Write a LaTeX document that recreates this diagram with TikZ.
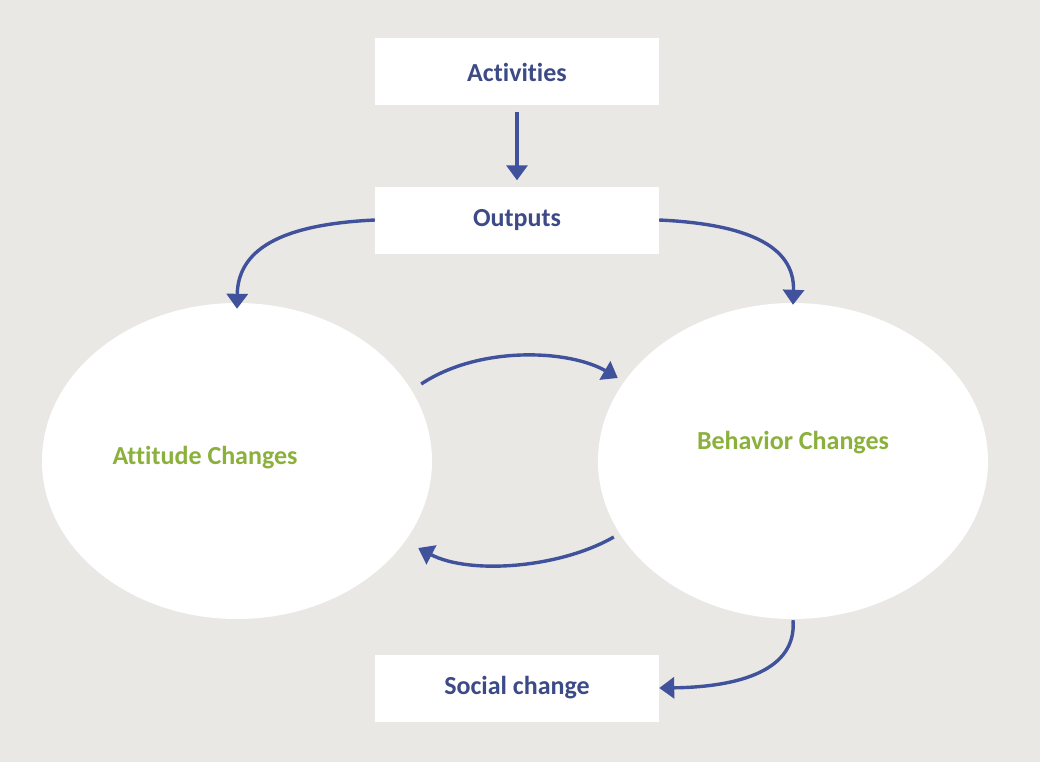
\documentclass[tikz,border=0pt]{standalone}
\usepackage{fontspec}
\setmainfont[Ligatures=NoCommon]{Carlito}
\usetikzlibrary{arrows.meta, positioning, shapes.geometric}
\definecolor{bggray}{RGB}{234,232,229}
\definecolor{txtblue}{RGB}{60,74,134}
\definecolor{arrblue}{RGB}{64,82,155}
\definecolor{chggreen}{RGB}{139,177,60}

\begin{document}
\begin{tikzpicture}[
  x=1pt, y=-1pt,
  box/.style={rectangle, fill=white, minimum width=284pt, minimum height=67pt,
              font=\fontsize{26}{30}\selectfont\bfseries, text=txtblue, align=center},
  blob/.style={ellipse, fill=white, minimum width=390pt, minimum height=316pt,
               inner sep=0pt},
  lbl/.style={text=chggreen, font=\fontsize{26}{30}\selectfont\bfseries},
  arr/.style={-{Triangle[length=15pt, width=21pt]}, line width=3.4pt, arrblue},
]
\fill[bggray] (0,0) rectangle (1040,762);
\useasboundingbox (0,0) rectangle (1040,762);

% Boxes
\node[box] (act)  at (517,72)  {Activities};
\node[box] (outp) at (517,220) {Outputs};
\node[box] (soc)  at (517,688) {Social change};

% Changes
\node[blob] (att) at (237,461) {};
\node[blob] (beh) at (793,461) {};
\node[lbl] (attl) at (205,458) {Attitude Changes};
\node[lbl] (behl) at (793,443) {Behavior Changes};

% Arrows
\draw[arr] ([yshift=-6pt]act.south) -- ([yshift=6pt]outp.north);
\draw[arr] (outp.west) .. controls (290,224) and (238,245) .. ([yshift=-6pt]att.north);
\draw[arr] (outp.east) .. controls (745,224) and (795,245) .. ([yshift=-2pt]beh.north);
\draw[arr] ([shift={(-11pt,77pt)}]att.east) .. controls (480,345) and (570,350) .. ([shift={(20pt,83pt)}]beh.west);
\draw[arr] ([shift={(16pt,-76pt)}]beh.west) .. controls (560,568) and (470,575) .. ([shift={(-14pt,-87pt)}]att.east);
\draw[arr] ([yshift=-1pt]beh.south) .. controls (797,670) and (740,687) .. (soc.east);

\end{tikzpicture}
\end{document}
